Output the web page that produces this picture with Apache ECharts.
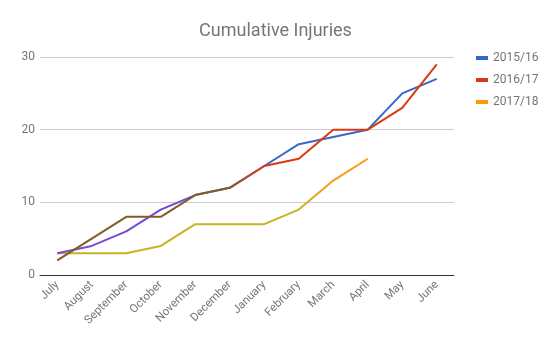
<!DOCTYPE html>
<html><head><meta charset="utf-8">
<script src="https://cdn.jsdelivr.net/npm/echarts@6/dist/echarts.min.js"></script>
<style>html,body{margin:0;padding:0;background:#fff}#c{width:551px;height:340px}</style>
</head><body><div id="c"></div>
<script>
const months = ["July","August","September","October","November","December","January","February","March","April","May","June"];
const s1516 = [3,4,6,9,11,12,15,18,19,20,25,27];
const s1617 = [2,5,8,8,11,12,15,16,20,20,23,29];
const s1718 = [3,3,3,4,7,7,7,9,13,16];
const yTicks = [0,10,20,30];

function grad(stops){
  return new echarts.graphic.LinearGradient(0,0,1,0,stops.map(s=>({offset:s[0],color:s[1]})));
}
const chart = echarts.init(document.getElementById('c'));
chart.setOption({
  animation:false,
  title:{text:'Cumulative Injuries',left:'center',top:17,textStyle:{fontFamily:'Roboto',fontSize:18,fontWeight:'normal',color:'#757575'}},
  legend:{orient:'vertical',left:471,top:47,itemGap:10,itemWidth:12,itemHeight:4,icon:'rect',
    textStyle:{fontFamily:'Roboto',fontSize:12,color:'#757575',lineHeight:12},
    data:[{name:'2015/16',itemStyle:{color:'#3366cc'}},{name:'2016/17',itemStyle:{color:'#dc3912'}},{name:'2017/18',itemStyle:{color:'#ff9900'}}]},
  grid:{left:40,right:97,top:57,bottom:65},
  xAxis:{type:'category',data:months,boundaryGap:true,
    axisLine:{lineStyle:{color:'#333',width:1}},axisTick:{show:false},
    axisLabel:{rotate:45,interval:0,fontFamily:'Roboto',fontSize:11.5,color:'#757575',margin:8}},
  yAxis:{type:'value',min:0,max:30,interval:10,
    axisLine:{show:false},axisTick:{show:false},
    splitLine:{lineStyle:{color:'#cccccc'}},
    axisLabel:{fontFamily:'Roboto',fontSize:12,color:'#757575',margin:5,
      formatter:v=>yTicks.includes(v)?String(v):''}},
  series:[
    {name:'2015/16',type:'line',data:s1516,symbol:'none',z:2,
      lineStyle:{width:2,color:grad([[0,'#7a4ad6'],[0.3,'#7048d2'],[0.42,'#3f66cc'],[1,'#3366cc']])},itemStyle:{color:'#3366cc'}},
    {name:'2016/17',type:'line',data:s1617,symbol:'none',z:3,
      lineStyle:{width:2,color:grad([[0,'#7f5c28'],[0.45,'#845a28'],[0.52,'#dc3912'],[1,'#dc3912']])},itemStyle:{color:'#dc3912'}},
    {name:'2017/18',type:'line',data:s1718,symbol:'none',z:1,
      lineStyle:{width:2,color:grad([[0,'#cbb320'],[0.78,'#c8b420'],[0.88,'#f59e1a'],[1,'#ff9900']])},itemStyle:{color:'#ff9900'}}
  ]
});
</script></body></html>
